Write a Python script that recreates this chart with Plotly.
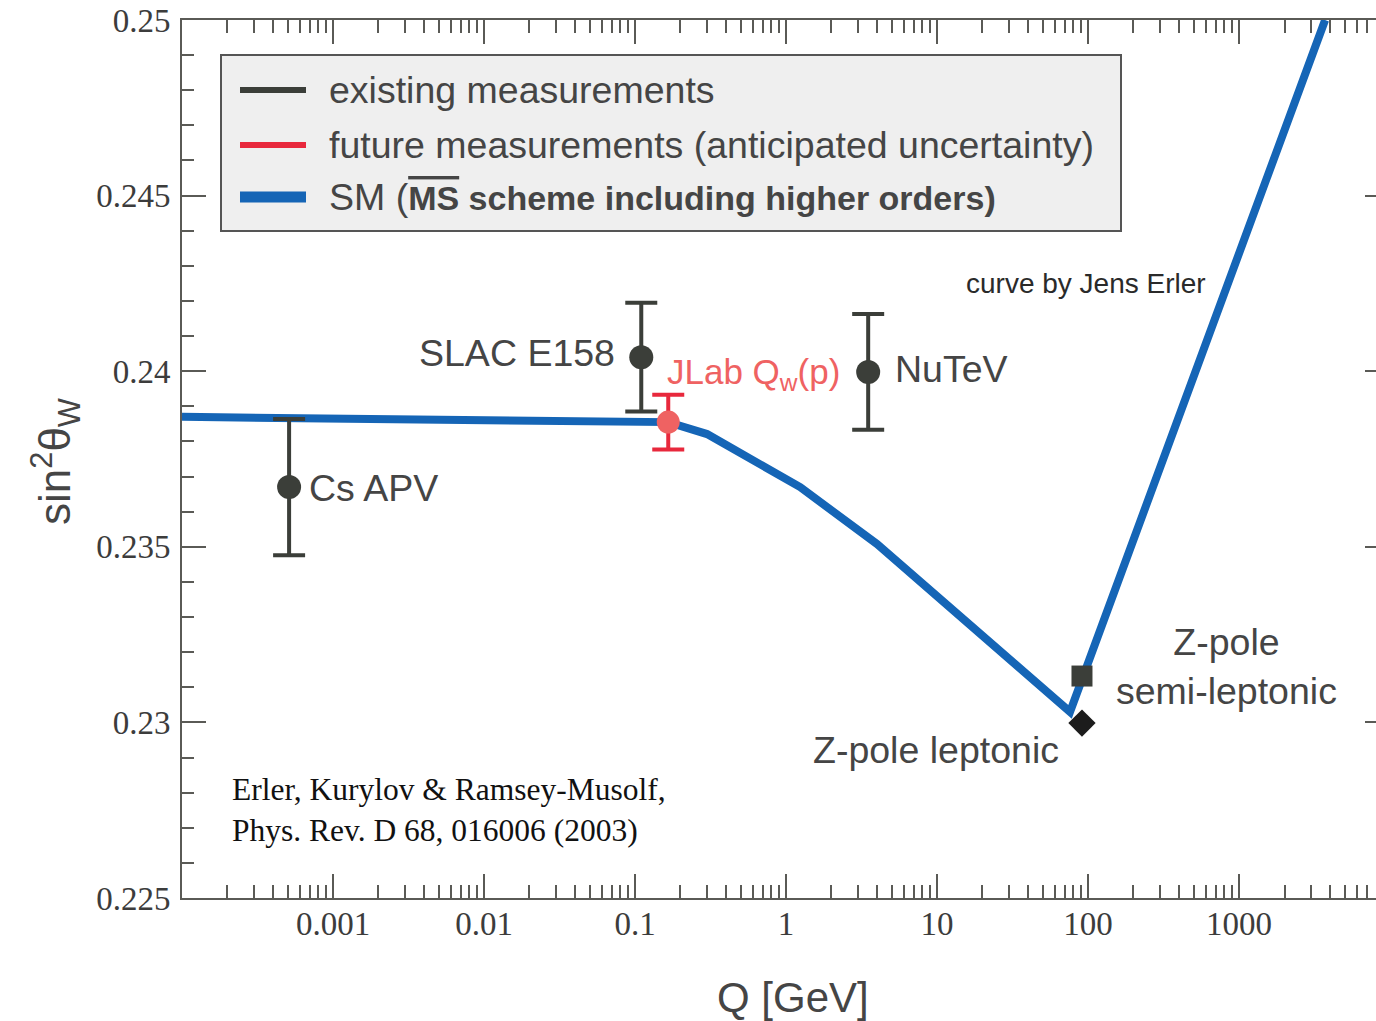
import plotly.graph_objects as go

# ---------------- data ----------------
# Standard Model running of sin^2(theta_W) (MS-bar)
sm_q = [0.0001, 0.166, 0.30, 1.24, 4.0, 76.0, 3715.0]
sm_s2w = [0.23870, 0.23855, 0.23821, 0.23670, 0.23508, 0.23030, 0.25000]

# existing measurements
exist_names = ["Cs APV", "SLAC E158", "NuTeV"]
exist_q = [0.000512, 0.11, 3.5]
exist_s2w = [0.2367, 0.2404, 0.23998]
exist_err = [0.00194, 0.00155, 0.00165]

# future measurement
fut_names = ["JLab Qw(p)"]
fut_q = [0.166]
fut_s2w = [0.23855]
fut_err = [0.00078]

# Z-pole
zsemi_q = [91.19]
zsemi_s2w = [0.23132]
zlep_q = [91.19]
zlep_s2w = [0.22998]

# axis ticks
x_tickvals = [0.001, 0.01, 0.1, 1, 10, 100, 1000]
x_ticktext = ["0.001", "0.01", "0.1", "1", "10", "100", "1000"]
x_minor = [m * 10.0 ** e for e in range(-4, 4) for m in range(2, 10)]
y_tickvals = [0.225, 0.23, 0.235, 0.24, 0.245, 0.25]
y_ticktext = ["0.225", "0.23", "0.235", "0.24", "0.245", "0.25"]

# ---------------- styling ----------------
BLUE = "#1565b6"
DARK = "#3b3e39"
RED = "#e8283c"
SALMON = "#ef6262"
TXT = "#454545"
AX = "#5a5a56"
SERIF = "Liberation Serif"
SANS = "Liberation Sans, Arial, sans-serif"
FS = 37.5

fig = go.Figure()

fig.add_trace(go.Scatter(x=sm_q, y=sm_s2w, mode="lines",
                         line=dict(color=BLUE, width=8), showlegend=False,
                         hoverinfo="skip"))

fig.add_trace(go.Scatter(x=exist_q, y=exist_s2w, mode="markers",
                         marker=dict(color=DARK, size=24),
                         error_y=dict(type="data", array=exist_err, color=DARK,
                                      thickness=4, width=16),
                         showlegend=False))

fig.add_trace(go.Scatter(x=fut_q, y=fut_s2w, mode="markers",
                         marker=dict(color=SALMON, size=23),
                         error_y=dict(type="data", array=fut_err, color=RED,
                                      thickness=4, width=16),
                         showlegend=False))

fig.add_trace(go.Scatter(x=zsemi_q, y=zsemi_s2w, mode="markers",
                         marker=dict(color=DARK, size=21, symbol="square"),
                         showlegend=False))
fig.add_trace(go.Scatter(x=zlep_q, y=zlep_s2w, mode="markers",
                         marker=dict(color="#1c1c1c", size=21, symbol="diamond"),
                         showlegend=False))

# dummy traces so that mirror axes are drawn
fig.add_trace(go.Scatter(x=[1], y=[None], xaxis="x2", yaxis="y",
                         showlegend=False, hoverinfo="skip"))
fig.add_trace(go.Scatter(x=[1], y=[None], xaxis="x", yaxis="y2",
                         showlegend=False, hoverinfo="skip"))

xr = [-4, 3.907]
yr = [0.225, 0.25]

common_x = dict(type="log", range=xr, tickmode="array", tickvals=x_tickvals,
                ticks="inside", ticklen=24, tickwidth=2, tickcolor=AX,
                showline=True, linecolor=AX, linewidth=2, showgrid=False,
                zeroline=False,
                minor=dict(tickmode="array", tickvals=x_minor, ticks="inside",
                           ticklen=13, tickwidth=2, tickcolor=AX, showgrid=False))

fig.update_layout(
    width=1376, height=1021,
    margin=dict(l=182, r=0, t=20, b=123),
    paper_bgcolor="white", plot_bgcolor="white",
    showlegend=False,
    xaxis=dict(**common_x, ticktext=x_ticktext,
               tickfont=dict(family=SERIF, size=33, color="#3c3c3c"),
               ticklabelstandoff=-5),
    xaxis2=dict(**common_x, overlaying="x", side="top", anchor="y",
                showticklabels=False),
    yaxis=dict(range=yr, tickmode="array", tickvals=y_tickvals,
               ticktext=y_ticktext, ticks="inside", ticklen=24, tickwidth=2,
               tickcolor=AX, showline=True, linecolor=AX, linewidth=2,
               showgrid=False, zeroline=False,
               tickfont=dict(family=SERIF, size=33, color="#3c3c3c"),
               ticklabelstandoff=3,
               minor=dict(dtick=0.001, ticks="inside", ticklen=12, tickwidth=2,
                          tickcolor=AX, showgrid=False)),
    yaxis2=dict(range=yr, overlaying="y", side="right", anchor="x",
                tickmode="array", tickvals=y_tickvals, ticks="inside",
                ticklen=11, tickwidth=2, tickcolor=AX, showline=False,
                showgrid=False, zeroline=False, showticklabels=False),
)

# ---------------- legend (manual) ----------------
def px(x):
    return (x - 182) / 1194.0


def py(y):
    return (898 - y) / 878.0


fig.add_shape(type="rect", xref="paper", yref="paper",
              x0=px(221), x1=px(1121), y0=py(231), y1=py(55),
              fillcolor="#efefef", line=dict(color="#555555", width=2),
              layer="below")
legend_items = [
    ("existing measurements", DARK, 6, 90),
    ("future measurements (anticipated uncertainty)", RED, 6, 145),
    ("SM (<span style=\"font-size:34px\"><span style=\"text-decoration:overline\"><b>MS</b></span>"
     "<b> scheme including higher orders)</b></span>", BLUE, 11, 197),
]
for text, col, w, yy in legend_items:
    fig.add_shape(type="line", xref="paper", yref="paper",
                  x0=px(240), x1=px(306), y0=py(yy), y1=py(yy),
                  line=dict(color=col, width=w))
    fig.add_annotation(xref="paper", yref="paper", x=px(327), y=py(yy),
                       text=text, showarrow=False, xanchor="left",
                       yanchor="middle",
                       font=dict(family=SANS, size=FS, color=TXT))

# ---------------- labels ----------------
def label(text, x, y, xanchor="left", size=FS, color=TXT, family=SANS, **kw):
    fig.add_annotation(xref="paper", yref="paper", x=px(x), y=py(y),
                       text=text, showarrow=False, xanchor=xanchor,
                       yanchor="middle", font=dict(family=family, size=size,
                                                   color=color), **kw)


label(exist_names[1], 617, 353, xanchor="right")
label("JLab Q<sub>w</sub>(p)", 665, 374, size=35, color=SALMON)
label(exist_names[2], 893, 369)
label(exist_names[0], 307, 488)
label("curve by Jens Erler", 964, 283, size=28, color="#2a2a2a")
label("Z-pole<br>semi-leptonic", 1226, 666, xanchor="center")
label("Z-pole leptonic", 811, 750)
label("Erler, Kurylov &amp; Ramsey-Musolf,<br>Phys. Rev. D 68, 016006 (2003)",
      230, 810, size=31.5, color="#111111", family=SERIF, align="left")
label("Q [GeV]", 793, 997, xanchor="center", size=42)
label("sin<sup>2</sup>θ<sub>W</sub>", 55, 462, xanchor="center", size=44,
      textangle=-90)

# remove the default 8px page margin so the figure fills the window exactly
fig.write_html("out.html",
               config={"displayModeBar": False},
               post_script="document.body.style.margin='0';"
                           "document.body.style.overflow='hidden';")
